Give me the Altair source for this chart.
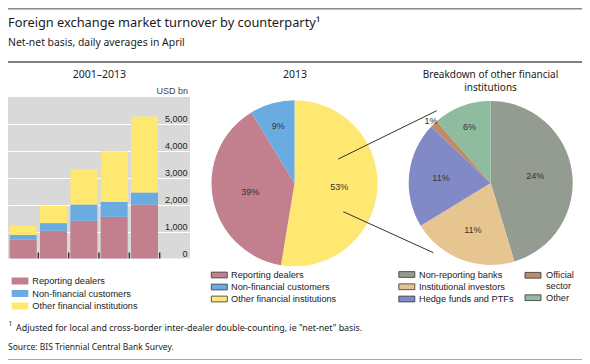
import altair as alt
import pandas as pd

# ---------------- data ----------------
YEARS = ["01", "04", "07", "10", "13"]
SEGMENTS = ["Reporting dealers", "Non-financial customers", "Other financial institutions"]
REPORTING_DEALERS = [700, 1030, 1400, 1548, 2010]
NON_FINANCIAL = [175, 285, 605, 555, 445]
OTHER_FINANCIAL = [335, 640, 1320, 1877, 2825]

PIE_2013_CATS = ["Other financial institutions", "Reporting dealers", "Non-financial customers"]
PIE_2013_SHARES = [52.6, 38.7, 8.7]

OFI_CATS = ["Non-reporting banks", "Institutional investors", "Hedge funds and PTFs",
            "Official sector", "Other"]
OFI_SHARES = [23.8, 11.0, 10.9, 0.8, 6.0]

Y_TICKS = [0, 1000, 2000, 3000, 4000, 5000]

# ---------------- styles ----------------
SEG_COLORS = ["#C27F8D", "#6AACE2", "#FFE872"]
OFI_COLORS = ["#949B91", "#E7C591", "#8189C7", "#BF8B6A", "#8FBB9F"]
SANS = "Liberation Sans"
TFONT = "Noto Sans"
TXT = "#222222"

bars = pd.DataFrame(
    [
        {"year": y, "segment": s, "value": v, "k": i}
        for i, (s, vals) in enumerate(zip(SEGMENTS, [REPORTING_DEALERS, NON_FINANCIAL, OTHER_FINANCIAL]))
        for y, v in zip(YEARS, vals)
    ]
)
years_df = pd.DataFrame({"year": YEARS})
pie1 = pd.DataFrame({"category": PIE_2013_CATS, "share": PIE_2013_SHARES, "k": range(len(PIE_2013_CATS))})
pie2 = pd.DataFrame({"category": OFI_CATS, "share": OFI_SHARES, "k": range(len(OFI_CATS))})
DUMMY = pd.DataFrame({"a": [0]})

x_scale = alt.Scale(domain=YEARS + [" "], paddingInner=0.11, paddingOuter=0.055)
seg_color = alt.Scale(domain=SEGMENTS, range=SEG_COLORS)
ofi_color = alt.Scale(domain=OFI_CATS, range=OFI_COLORS)

# ---------------- bar panel ----------------
bar_layer = alt.Chart(bars).mark_bar().encode(
    x=alt.X("year:N", scale=x_scale, sort=None,
            axis=alt.Axis(title=None, labelAngle=0, ticks=False, domain=False, grid=True,
                          gridColor="white", gridWidth=1, tickBand="extent",
                          labelFont=SANS, labelFontSize=9, labelColor=TXT, labelPadding=3)),
    y=alt.Y("value:Q", stack="zero", scale=alt.Scale(domain=[0, 6000], nice=False),
            axis=alt.Axis(title=None, orient="right", values=Y_TICKS, format=",.0f",
                          grid=True, gridColor="white", gridWidth=1, ticks=False, domain=False,
                          labelAlign="right", labelPadding=-3, labelBaseline="middle",
                          labelOffset=-5.5, labelFont=SANS, labelFontSize=9, labelColor=TXT)),
    color=alt.Color("segment:N", scale=seg_color, legend=None),
    order=alt.Order("k:Q"),
)

tick_layer = alt.Chart(years_df).mark_rule(color="#333333", strokeWidth=1.5, xOffset=1.67).encode(
    x=alt.X("year:N", scale=x_scale, bandPosition=1, axis=None),
    y=alt.value(155.5),
    y2=alt.value(161.5),
)

# ---------------- pies ----------------
RADIUS_EXPR = "datum.share >= 20 ? 45 : datum.share >= 10 ? 50 : datum.share >= 3 ? 60 : 86"


def pie(df, cscale, cx, cy, r):
    arc = alt.Chart(df).mark_arc(outerRadius=r).encode(
        theta=alt.Theta("share:Q", stack=True),
        color=alt.Color("category:N", scale=cscale, legend=None),
        order=alt.Order("k:Q"),
        x=alt.value(cx),
        y=alt.value(cy),
    )
    txt = alt.Chart(df).transform_calculate(
        label="format(datum.share, '.0f') + '%'"
    ).mark_text(font=SANS, fontSize=9, color="#333333").encode(
        theta=alt.Theta("share:Q", stack=True),
        order=alt.Order("k:Q"),
        radius=alt.value({"expr": RADIUS_EXPR}),
        text="label:N",
        x=alt.value(cx),
        y=alt.value(cy),
    )
    return [arc, txt]


# ---------------- helpers ----------------
def text(t, x, y, size, font=TFONT, align="left", color=TXT, baseline="middle"):
    return alt.Chart(DUMMY).mark_text(
        text=t, align=align, baseline=baseline, font=font, fontSize=size, color=color
    ).encode(x=alt.value(x), y=alt.value(y))


def hline(x1, x2, y, color, width):
    return alt.Chart(DUMMY).mark_rule(color=color, strokeWidth=width).encode(
        x=alt.value(x1), x2=alt.value(x2), y=alt.value(y))


def seg(x1, y1, x2, y2):
    return alt.Chart(DUMMY).mark_rule(color="#333333", strokeWidth=1).encode(
        x=alt.value(x1), y=alt.value(y1), x2=alt.value(x2), y2=alt.value(y2))


LEFT_SHAPE = "M-1,-0.42H1V0.42H-1Z"
BOX_SHAPE = "M-1,-0.36H1V0.36H-1Z"


def legend(cats, cscale, xs, xt, yr, shape, size, boxed, multiline=False):
    df = pd.DataFrame({"category": cats})
    ysc = alt.Scale(type="point", domain=cats, range=yr, padding=0)
    pkw = dict(shape=shape, size=size, filled=True, opacity=1)
    if boxed:
        pkw.update(stroke="#333333", strokeWidth=0.8)
    sw = alt.Chart(df).mark_point(**pkw).encode(
        x=alt.value(xs),
        y=alt.Y("category:N", scale=ysc, axis=None),
        color=alt.Color("category:N", scale=cscale, legend=None),
    )
    tkw = dict(align="left", font=SANS, fontSize=9.2, color=TXT)
    if multiline:
        tkw.update(lineBreak=" ", baseline="top", dy=-4, lineHeight=10.4)
    else:
        tkw.update(baseline="middle")
    tx = alt.Chart(df).mark_text(**tkw).encode(
        x=alt.value(xt),
        y=alt.Y("category:N", scale=ysc, axis=None),
        text="category:N",
    )
    return [sw, tx]


layers = [bar_layer, tick_layer]
layers += pie(pie1, seg_color, 286.5, 86.3, 83)
layers += pie(pie2, ofi_color, 482.7, 86.0, 82)
layers += [
    seg(330.3, 62, 428.7, 13.7),
    seg(335.3, 114.7, 425.3, 155.7),
    hline(0, 574, -88.2, "#888888", 1.6),
    hline(0, 574, -35, "#555555", 1.5),
    hline(0, 574, 262.5, "#aaaaaa", 1.2),
    text("Foreign exchange market turnover by counterparty\u00b9", 0, -73.7, 12.8, color="#1a1a1a"),
    text("Net-net basis, daily averages in April", 0, -53.7, 10.4),
    text("2001\u20132013", 91.3, -22, 10.5, align="center"),
    text("USD bn", 180, -6, 9, font=SANS, align="right", color="#444444"),
    text("2013", 287, -22, 10.5, align="center"),
    text("Breakdown of other financial", 482.5, -22.5, 10, align="center"),
    text("institutions", 482.5, -9.5, 10, align="center"),
    text("1", 0.5, 226.5, 6.5),
    text('Adjusted for local and cross-border inter-dealer double-counting, ie "net-net" basis.',
         8, 230.7, 8.9),
    text("Source: BIS Triennial Central Bank Survey.", 0, 250.3, 8.5),
]
layers += legend(SEGMENTS, seg_color, 12, 24.3, [184, 209], LEFT_SHAPE, 279, False)
layers += legend(SEGMENTS, seg_color, 211.3, 223, [178, 202], BOX_SHAPE, 256, True)
layers += legend(OFI_CATS[:3], ofi_color, 398.8, 411, [177.5, 202], BOX_SHAPE, 256, True)
layers += legend(OFI_CATS[3:], ofi_color, 525, 538, [178.3, 200.7], BOX_SHAPE, 256, True, multiline=True)

chart = (
    alt.layer(*layers)
    .resolve_scale(y="independent", theta="independent", color="independent")
    .properties(
        width=182,
        height=161.5,
        padding={"left": 0, "top": 89, "right": 392, "bottom": 105.5},
        autosize=alt.AutoSizeParams(type="none"),
        background="white",
    )
    .configure_view(fill="#D9D9D9", stroke=None)
)

chart.save("out.html", embed_options={"renderer": "svg", "actions": False})
